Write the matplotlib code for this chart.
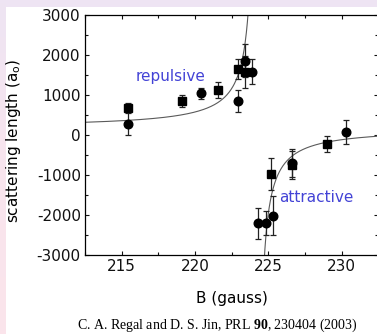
import numpy as np
import matplotlib
matplotlib.use("Agg")
import matplotlib.pyplot as plt
from matplotlib.colors import LinearSegmentedColormap

plt.rcParams['font.family'] = ['DejaVu Sans']
plt.rcParams['axes.unicode_minus'] = False
plt.rcParams['mathtext.fontset'] = 'custom'
plt.rcParams['mathtext.rm'] = 'Liberation Serif'
plt.rcParams['mathtext.bf'] = 'Liberation Serif:bold'
plt.rcParams['mathtext.sf'] = 'DejaVu Sans'

# ---- data ----
sq_B = [215.4, 219.1, 221.6, 222.9, 223.4, 225.2, 226.6, 229.0]
sq_a = [683, 858, 1125, 1642, 1575, -983, -750, -225]
sq_err = [115, 150, 200, 250, 400, 400, 350, 200]

ci_B = [215.4, 220.4, 222.9, 223.4, 223.9, 224.3, 224.85, 225.3, 226.6, 230.3]
ci_a = [275, 1042, 850, 1858, 1583, -2210, -2210, -2017, -690, 75]
ci_err = [280, 140, 270, 420, 310, 390, 300, 480, 350, 300]

# Feshbach resonance fit parameters (from the figure's source)
a_bg = 174.0
B0 = 224.21
w = 9.7

x_ticks = [215, 220, 225, 230]
y_ticks = [-3000, -2000, -1000, 0, 1000, 2000, 3000]

W, H = 377, 334
fig = plt.figure(figsize=(W / 100, H / 100), dpi=100)
fig.patch.set_facecolor('white')

# slide background strips
top = fig.add_axes([0, (H - 7) / H, 1, 7 / H])
top.set_axis_off()
top.add_patch(plt.Rectangle((0, 0), 1, 1, color='#EEE4F3', transform=top.transAxes))
left = fig.add_axes([0, 0, 6 / W, 1])
left.set_axis_off()
cmap = LinearSegmentedColormap.from_list('g', ['#EEE4F3', '#F8E4EE', '#FBE4EB'])
left.imshow(np.linspace(0, 1, 100)[:, None], aspect='auto', cmap=cmap,
            extent=[0, 1, 0, 1], origin='upper')

ax = fig.add_axes([85 / W, 79 / H, (378.3 - 85) / W, 240 / H])

# fit curve
for lo, hi in [(212.5, B0 - 1e-3), (B0 + 1e-3, 232.5)]:
    Bc = np.concatenate([np.linspace(lo, hi, 400),
                         B0 + np.sign((lo + hi) / 2 - B0) * np.geomspace(1e-3, 2, 400)])
    Bc = np.sort(Bc[(Bc >= lo) & (Bc <= hi)])
    ac = a_bg * (1 - w / (Bc - B0))
    ax.plot(Bc, ac, color='#5a5a5a', lw=0.8, zorder=2)

ekw = dict(ls='none', color='black', ecolor='#222222', elinewidth=0.9,
           capsize=2.5, capthick=0.9, zorder=3)
ax.errorbar(ci_B, ci_a, yerr=ci_err, marker='o', ms=6.2, **ekw)
ax.errorbar(sq_B, sq_a, yerr=sq_err, marker='s', ms=5.6, **ekw)

ax.set_xlim(212.5, 232.5)
ax.set_ylim(-3000, 3000)
ax.set_xticks(x_ticks)
ax.set_xticks(np.arange(212.5, 232.6, 2.5), minor=True)
ax.set_yticks(y_ticks)
ax.set_yticks(np.arange(-3000, 3001, 500), minor=True)
ax.tick_params(which='both', direction='in', top=True, right=True,
               width=0.8, labelsize=11, colors='#111111')
ax.tick_params(which='major', length=3.2, pad=3)
ax.tick_params(which='minor', length=2.2)
for s in ax.spines.values():
    s.set_linewidth(0.9)

blue = '#4343D6'
ax.text(218.33, 1475, 'repulsive', color=blue, fontsize=11, ha='center', va='center')
ax.text(228.3, -1575, 'attractive', color=blue, fontsize=11, ha='center', va='center')

fig.text(231.7 / W, (H - 298) / H, 'B (gauss)', fontsize=11, ha='center', va='center')
fig.text(14 / W, (H - 140.5) / H, r'scattering length (a$_\mathsf{o}$)', fontsize=11,
         rotation=90, ha='center', va='center')
fig.text(217 / W, (H - 325) / H, r'C. A. Regal and D. S. Jin, PRL $\mathbf{90}$, 230404 (2003)',
         fontsize=10, family='Liberation Serif', ha='center', va='center')

fig.savefig('out.png', dpi=100)
